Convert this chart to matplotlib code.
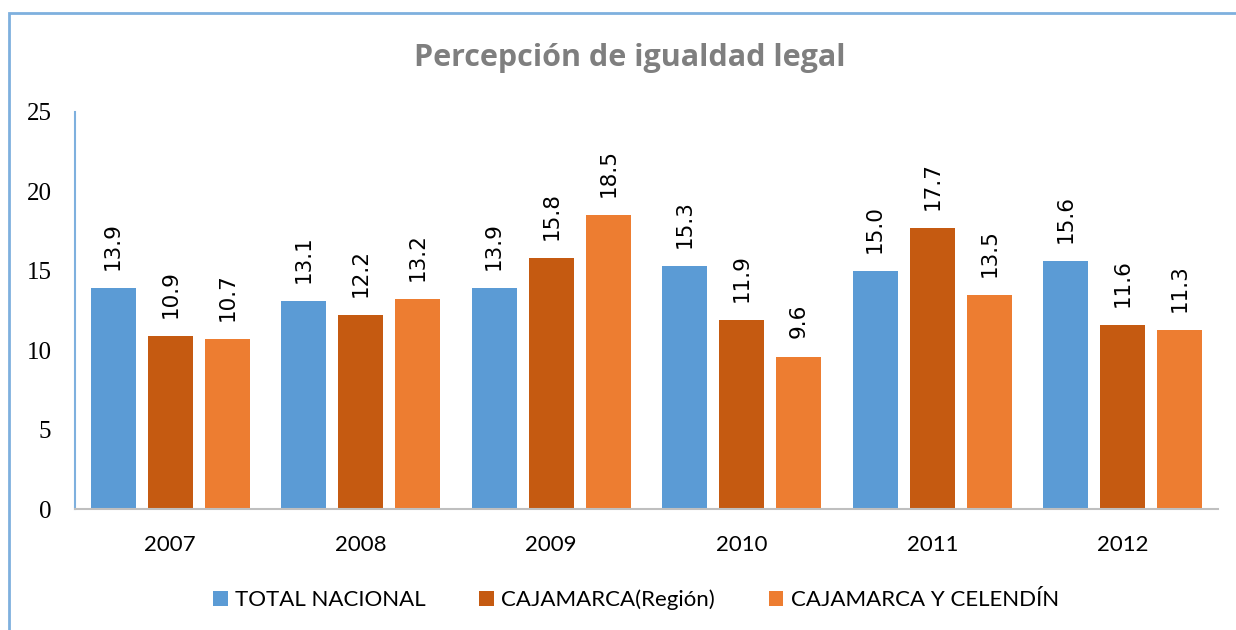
import numpy as np
import matplotlib
matplotlib.use("Agg")
import matplotlib.pyplot as plt
from matplotlib.patches import Rectangle

years = ["2007", "2008", "2009", "2010", "2011", "2012"]
series_names = ["TOTAL NACIONAL", "CAJAMARCA(Región)", "CAJAMARCA Y CELENDÍN"]
total_nacional = [13.9, 13.1, 13.9, 15.3, 15.0, 15.6]
cajamarca_region = [10.9, 12.2, 15.8, 11.9, 17.7, 11.6]
cajamarca_celendin = [10.7, 13.2, 18.5, 9.6, 13.5, 11.3]
colors = ["#5B9BD5", "#C55A11", "#ED7D31"]

fig = plt.figure(figsize=(12.36, 6.3), dpi=100)
ax = fig.add_axes([75 / 1236, 1 - 509 / 630, (1218 - 75) / 1236, (509 - 112) / 630])

# outer chart frame
fig.patches.append(Rectangle((9 / 1236, -0.05), 1.1, 1 - 13 / 630 + 0.05,
                             transform=fig.transFigure, fill=False,
                             edgecolor="#7EB0DE", linewidth=2))

x = np.arange(len(years))
width = 0.236
step = 0.3
label_font = "Lato"
for i, (vals, name) in enumerate(zip([total_nacional, cajamarca_region, cajamarca_celendin], series_names)):
    pos = x + (i - 1) * step
    bars = ax.bar(pos, vals, width, color=colors[i], label=name)
    for b, v in zip(bars, vals):
        ax.annotate(f"{v:.1f}", (b.get_x() + b.get_width() / 2, v),
                    xytext=(0, 13), textcoords="offset points",
                    rotation=90, ha="center", va="bottom",
                    fontsize=15.5, family="DejaVu Sans")

ax.set_xlim(-0.5, 5.5)
ax.set_ylim(0, 25)
ax.set_yticks([0, 5, 10, 15, 20, 25])
ax.set_xticks(x)
ax.set_xticklabels(years, family=label_font, fontsize=16)
for t in ax.get_yticklabels():
    t.set_family("Liberation Serif")
    t.set_fontsize(18)
ax.tick_params(axis="y", length=0, pad=17)
ax.tick_params(axis="x", length=0, pad=19)
ax.spines["top"].set_visible(False)
ax.spines["right"].set_visible(False)
ax.spines["left"].set_color("#7EB0DE")
ax.spines["left"].set_linewidth(1.5)
ax.spines["bottom"].set_color("#BFBFBF")
ax.spines["bottom"].set_linewidth(1.5)

fig.text(630 / 1236, 1 - 58 / 630, "Percepción de igualdad legal", ha="center", va="center",
         fontsize=22, fontweight="bold", color="#7F7F7F", family="Open Sans")

leg = fig.legend(loc="center", bbox_to_anchor=(636 / 1236, 1 - 600 / 630), ncol=3,
                 frameon=False, prop={"family": label_font, "size": 16},
                 handlelength=0.65, handleheight=0.65, handletextpad=0.35, columnspacing=2.4)

fig.savefig("out.png", dpi=100)
